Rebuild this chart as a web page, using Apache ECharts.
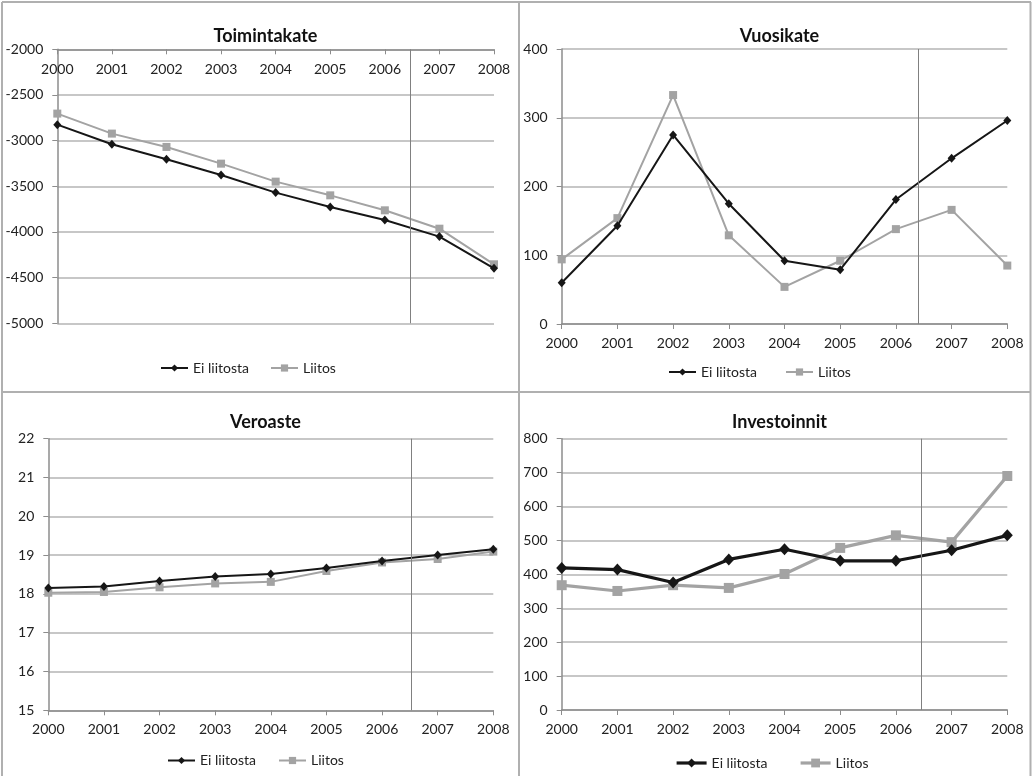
<!DOCTYPE html>
<html>
<head>
<meta charset="utf-8">
<style>
html,body{margin:0;padding:0;background:#fff;}
#chart{width:1032px;height:776px;}
</style>
<script src="https://cdn.jsdelivr.net/npm/echarts@6/dist/echarts.min.js"></script>
</head>
<body>
<div id="chart"></div>
<script>
// ---- DATA ----
const years = [2000, 2001, 2002, 2003, 2004, 2005, 2006, 2007, 2008];
const seriesNames = ['Ei liitosta', 'Liitos'];
const titles = ['Toimintakate', 'Vuosikate', 'Veroaste', 'Investoinnit'];

const toimintakateEi = [-2825, -3040, -3204, -3376, -3569, -3726, -3869, -4051, -4398];
const toimintakateLiitos = [-2704, -2923, -3069, -3252, -3449, -3599, -3763, -3964, -4354];

const vuosikateEi = [60, 143, 275, 175, 92, 79, 181, 241, 296];
const vuosikateLiitos = [94, 154, 333, 129, 54, 92, 138, 166, 85];

const veroasteEi = [18.15, 18.19, 18.33, 18.45, 18.51, 18.67, 18.85, 19.0, 19.15];
const veroasteLiitos = [18.03, 18.05, 18.17, 18.27, 18.31, 18.59, 18.81, 18.9, 19.09];

const investoinnitEi = [419, 414, 376, 444, 474, 440, 440, 471, 515];
const investoinnitLiitos = [368, 351, 368, 360, 401, 478, 515, 495, 690];

// y-axis ranges [min, max, interval]
const yRanges = [[-5000, -2000, 500], [0, 400, 100], [15, 22, 1], [0, 800, 100]];
// vertical separator (between actual and forecast years)
const separatorYear = [2006.47, 2006.41, 2006.53, 2006.45];

// ---- LAYOUT ----
const FONT = 'Lato';
const BLACK = '#161616';
const GRAY = '#a3a3a3';
const grids = [
  {left: 57.3, top: 49.3, width: 436.7, height: 274},
  {left: 561.7, top: 49, width: 445.6, height: 275},
  {left: 48.3, top: 438.7, width: 445, height: 271.6},
  {left: 561.7, top: 438.7, width: 445.6, height: 271.3}
];
const titlePos = [[260.5, 22], [774.5, 22], [260.5, 408], [774.5, 408]];
// legend item left positions [ei, liitos], center y
const legendPos = [
  [[160, 270], 369],
  [[668, 785], 373],
  [[167, 278], 761.5],
  [[675, 799], 764]
];
const dataSets = [
  [toimintakateEi, toimintakateLiitos],
  [vuosikateEi, vuosikateLiitos],
  [veroasteEi, veroasteLiitos],
  [investoinnitEi, investoinnitLiitos]
];

const pairs = arr => years.map((y, i) => [y, arr[i]]);

const option = {
  animation: false,
  textStyle: {fontFamily: FONT},
  title: [], grid: [], xAxis: [], yAxis: [], series: [], legend: [],
  graphic: []
};

for (let p = 0; p < 4; p++) {
  const thick = p === 3;
  const lw = thick ? 3.2 : 2;
  option.title.push({
    text: titles[p], left: titlePos[p][0], top: titlePos[p][1], textAlign: 'center',
    textStyle: {fontFamily: FONT, fontWeight: 'bold', fontSize: 18, color: '#111'}
  });
  option.grid.push(Object.assign({containLabel: false}, grids[p]));
  option.xAxis.push({
    type: 'value', gridIndex: p, min: years[0], max: years[years.length - 1], interval: 1,
    position: p === 0 ? 'top' : 'bottom',
    axisLine: {show: true, onZero: false, lineStyle: {color: '#8c8c8c', width: 1.5}},
    axisTick: {show: true, inside: p === 0, length: 5, lineStyle: {color: '#8c8c8c', width: 1}},
    axisLabel: {show: true, inside: p === 0, margin: p === 0 ? 13 : 12, fontSize: 14, color: '#222', fontFamily: FONT,
      formatter: v => String(v)},
    splitLine: {show: false}
  });
  option.yAxis.push({
    type: 'value', gridIndex: p, min: yRanges[p][0], max: yRanges[p][1], interval: yRanges[p][2],
    axisLine: {show: true, lineStyle: {color: '#8c8c8c', width: 1.5}},
    axisTick: {show: true, length: 5, lineStyle: {color: '#8c8c8c', width: 1}},
    axisLabel: {margin: 14, fontSize: 14, color: '#222', fontFamily: FONT, formatter: v => String(v)},
    splitLine: {show: true, lineStyle: {color: '#b5b5b5', width: 1.5}}
  });
  const [ei, li] = dataSets[p];
  option.series.push({
    type: 'line', name: seriesNames[1], xAxisIndex: p, yAxisIndex: p, data: pairs(li),
    symbol: 'rect', symbolSize: thick ? 10 : 8,
    lineStyle: {color: GRAY, width: lw}, itemStyle: {color: GRAY},
    z: 3,
    markLine: {
      silent: true, symbol: 'none', label: {show: false},
      lineStyle: {color: '#808080', width: 1, type: 'solid'},
      data: [{xAxis: separatorYear[p]}]
    }
  });
  option.series.push({
    type: 'line', name: seriesNames[0], xAxisIndex: p, yAxisIndex: p, data: pairs(ei),
    symbol: 'diamond', symbolSize: thick ? [11, 12] : [8, 9],
    lineStyle: {color: BLACK, width: lw}, itemStyle: {color: BLACK},
    z: 4
  });
  const [lx, cy] = legendPos[p];
  const iw = thick ? 30 : 27;
  option.legend.push({
    left: lx[0], top: cy - 8, itemWidth: iw, itemHeight: thick ? 11 : 9, padding: 0, itemGap: 0,
    selectedMode: false,
    textStyle: {fontFamily: FONT, fontSize: 14, color: '#222'},
    data: [{name: seriesNames[0], itemStyle: {color: BLACK}, lineStyle: {color: BLACK, width: lw}}]
  });
  option.legend.push({
    left: lx[1], top: cy - 8, itemWidth: iw, itemHeight: thick ? 11 : 9, padding: 0, itemGap: 0,
    selectedMode: false,
    textStyle: {fontFamily: FONT, fontSize: 14, color: '#222'},
    data: [{name: seriesNames[1], itemStyle: {color: GRAY}, lineStyle: {color: GRAY, width: lw}}]
  });
}

// panel borders
const borderStyle = {stroke: '#b0b0b0', lineWidth: 2};
[
  [2, 2, 1031, 2], [2, 392, 1031, 392], [2, 2, 2, 776], [519, 2, 519, 776], [1030.5, 2, 1030.5, 776]
].forEach(s => option.graphic.push({type: 'line', silent: true, shape: {x1: s[0], y1: s[1], x2: s[2], y2: s[3]}, style: borderStyle}));

const chart = echarts.init(document.getElementById('chart'), null, {renderer: 'canvas'});
chart.setOption(option);
</script>
</body>
</html>
